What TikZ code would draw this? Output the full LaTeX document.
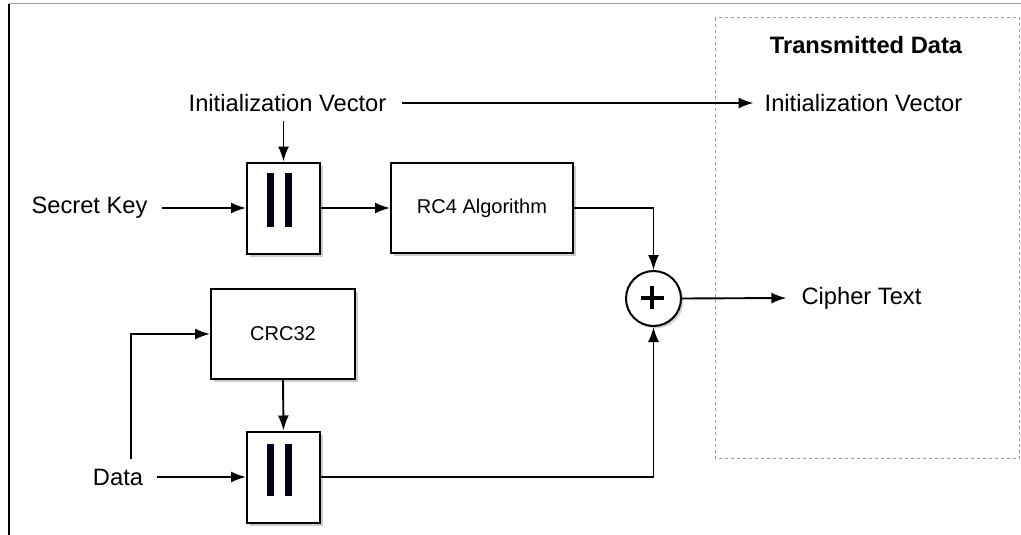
\documentclass[tikz,border=0pt]{standalone}
\usepackage{fontspec}
\setmainfont{Liberation Sans}
\usetikzlibrary{arrows.meta,shadows}

\begin{document}
\begin{tikzpicture}[x=1pt,y=-1pt,
  label/.style={inner sep=0pt,font=\fontsize{23.7}{28}\selectfont},
  heading/.style={inner sep=0pt,font=\fontsize{23.7}{28}\selectfont\bfseries},
  boxlabel/.style={inner sep=0pt,font=\fontsize{20}{24}\selectfont},
  blockbox/.style={draw=black,line width=2pt,fill=white,inner sep=0pt,
    drop shadow={shadow xshift=3pt,shadow yshift=-3pt,opacity=0.4,fill=gray}},
  xorbox/.style={circle,draw=black,line width=2pt,fill=white,minimum size=55pt,inner sep=0pt,
    drop shadow={shadow xshift=2.5pt,shadow yshift=-2.5pt,opacity=0.35,fill=gray}},
  wire/.style={line width=1.9pt,draw=black},
  arr/.style={wire,-{Latex[length=15pt,width=11pt]}},
  bar/.style={fill=black!90!blue,draw=none}
]
\useasboundingbox (0,0) rectangle (1021,535);

% frame edges
\draw[gray!70,line width=1pt] (9,4) -- (1021,4);
\draw[black,line width=2pt] (9,4) -- (9,535);

% transmitted data region
\draw[gray!80,dashed,dash pattern=on 3pt off 3pt,line width=1pt] (715,18) rectangle (1019.5,458);
\node[heading] (tdata) at (866,45) {Transmitted Data};

% labels
\node[label] (iv)     at (287.5,103) {Initialization Vector};
\node[label] (ivout)  at (863.5,103) {Initialization Vector};
\node[label] (key)    at (89.5,208)  {Secret Key};
\node[label] (data)   at (118,477)   {Data};
\node[label] (cipher) at (861.5,298) {Cipher Text};

% processing blocks
\node[blockbox,minimum width=73pt,minimum height=91pt] (cat1) at (283.5,208) {};
\node[blockbox,minimum width=182pt,minimum height=90pt] (rc4) at (482,208) {};
\node[boxlabel] (rc4t) at (rc4.center) {RC4 Algorithm};
\node[blockbox,minimum width=144pt,minimum height=90pt] (crc) at (283,334) {};
\node[boxlabel] (crct) at (crc.center) {CRC32};
\node[blockbox,minimum width=73pt,minimum height=91pt] (cat2) at (283.5,477) {};
\node[xorbox] (xor) at (653.5,298.5) {};

% concatenation bars
\fill[bar] ([xshift=-16.5pt,yshift=35pt]cat1.center) rectangle ([xshift=-9.5pt,yshift=-19pt]cat1.center);
\fill[bar] ([xshift=1.5pt,yshift=35pt]cat1.center) rectangle ([xshift=8.5pt,yshift=-19pt]cat1.center);
\fill[bar] ([xshift=-16.5pt,yshift=33pt]cat2.center) rectangle ([xshift=-9.5pt,yshift=-19pt]cat2.center);
\fill[bar] ([xshift=1.5pt,yshift=33pt]cat2.center) rectangle ([xshift=8.5pt,yshift=-19pt]cat2.center);

% xor plus sign
\draw[line width=4pt] ([xshift=-12.5pt,yshift=1pt]xor.center) -- ([xshift=10pt,yshift=1pt]xor.center);
\draw[line width=4pt] ([xshift=-1.5pt,yshift=12.5pt]xor.center) -- ([xshift=-1.5pt,yshift=-10.5pt]xor.center);

% connectors
\draw[arr] ([xshift=15pt]iv.east) -- ([xshift=-11pt]ivout.west);
\draw[arr] ([yshift=-9pt]iv.south -| cat1.north) -- (cat1.north);
\draw[arr] ([xshift=14pt]key.east) -- (cat1.west);
\draw[arr] (cat1.east) -- (rc4.west);
\draw[arr] (rc4.east) -| (xor.north);
\draw[arr] (xor.east) -- ([xshift=-15pt]cipher.west);
\coordinate (split) at ([xshift=13pt,yshift=10pt]data.north);
\draw[arr] (split) |- (crc.west);
\draw[arr] ([xshift=14pt]data.east) -- (cat2.west);
\draw[arr] (crc.south) -- (cat2.north);
\draw[arr] (cat2.east) -| (xor.south);
\end{tikzpicture}
\end{document}
